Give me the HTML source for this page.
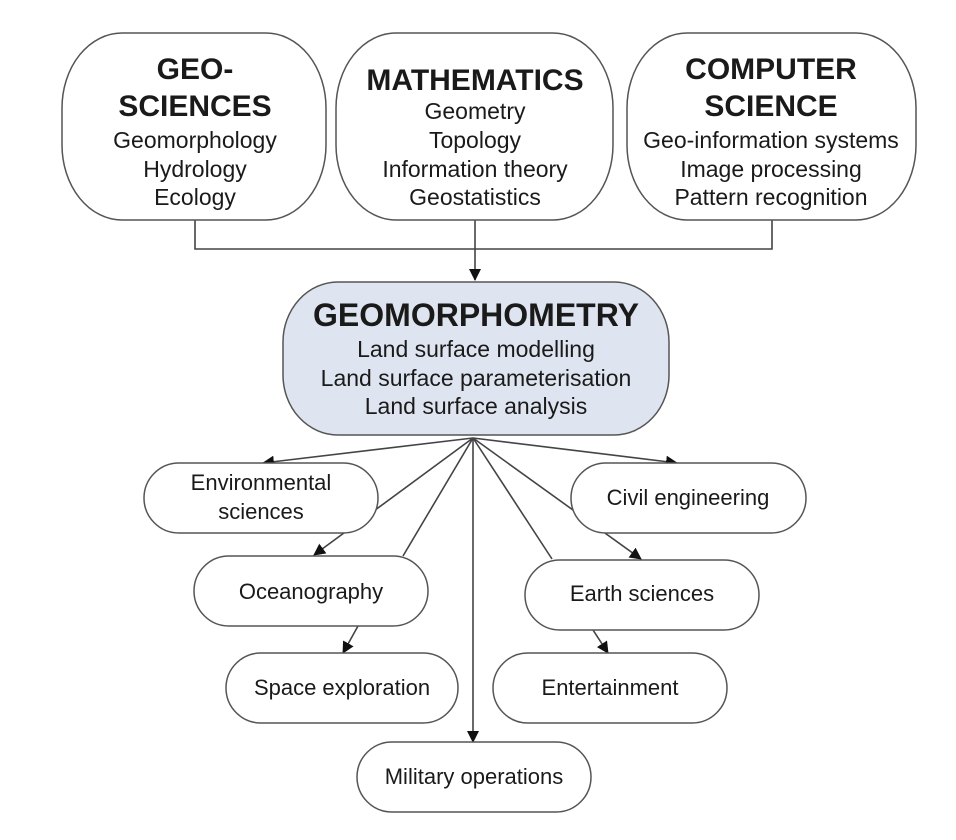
<!DOCTYPE html>
<html><head><meta charset="utf-8"><style>
html,body{margin:0;padding:0;background:#fff;}
svg{display:block;}
text{font-family:"Liberation Sans",Arial,sans-serif;fill:#1a1a1a;text-anchor:middle;}
.t{font-size:30px;font-weight:bold;}
.s{font-size:23px;}
.b{font-size:22px;}
</style></head><body>
<svg width="956" height="840" viewBox="0 0 956 840" xmlns="http://www.w3.org/2000/svg">
<defs>
<marker id="a" markerWidth="12" markerHeight="12" refX="11" refY="6" orient="auto" markerUnits="userSpaceOnUse">
<path d="M0,0 L12,6 L0,12 Z" fill="#111"/>
</marker>
</defs>
<g stroke="#444" stroke-width="1.6" fill="none">
<path d="M195,220 V249 H772 V220"/>
<path d="M475,220 V280" marker-end="url(#a)"/>
<line x1="473" y1="438" x2="263" y2="463" marker-end="url(#a)"/>
<line x1="473" y1="438" x2="677" y2="463" marker-end="url(#a)"/>
<line x1="473" y1="438" x2="314" y2="555" marker-end="url(#a)"/>
<line x1="473" y1="438" x2="403" y2="556"/>
<line x1="473" y1="438" x2="641" y2="559" marker-end="url(#a)"/>
<line x1="473" y1="438" x2="552" y2="559"/>
<line x1="473" y1="438" x2="473" y2="742" marker-end="url(#a)"/>
<line x1="358" y1="626" x2="343" y2="653" marker-end="url(#a)"/>
<line x1="593" y1="630" x2="608" y2="653" marker-end="url(#a)"/>
</g>
<g stroke="#555" stroke-width="1.5" fill="#fff">
<rect x="62" y="33" width="264" height="187" rx="60" ry="75"/>
<rect x="336" y="33" width="277" height="187" rx="60" ry="75"/>
<rect x="627" y="33" width="289" height="187" rx="60" ry="75"/>
<rect x="283" y="282" width="386" height="153" rx="55" ry="60" fill="#dfe5f0"/>
<rect x="144" y="463" width="234" height="70" rx="35" ry="35"/>
<rect x="571" y="463" width="235" height="70" rx="35" ry="35"/>
<rect x="194" y="556" width="234" height="70" rx="35" ry="35"/>
<rect x="525" y="560" width="234" height="70" rx="35" ry="35"/>
<rect x="226" y="653" width="232" height="70" rx="35" ry="35"/>
<rect x="493" y="653" width="234" height="70" rx="35" ry="35"/>
<rect x="357" y="742" width="234" height="70" rx="35" ry="35"/>
</g>
<text class="t" x="195" y="79">GEO-</text>
<text class="t" x="195" y="116">SCIENCES</text>
<text class="s" x="195" y="148">Geomorphology</text>
<text class="s" x="195" y="177">Hydrology</text>
<text class="s" x="195" y="205">Ecology</text>
<text class="t" x="475" y="90">MATHEMATICS</text>
<text class="s" x="475" y="119">Geometry</text>
<text class="s" x="475" y="148">Topology</text>
<text class="s" x="475" y="177">Information theory</text>
<text class="s" x="475" y="205">Geostatistics</text>
<text class="t" x="771" y="79">COMPUTER</text>
<text class="t" x="771" y="116">SCIENCE</text>
<text class="s" x="771" y="148">Geo-information systems</text>
<text class="s" x="771" y="177">Image processing</text>
<text class="s" x="771" y="205">Pattern recognition</text>
<text class="t" x="476" y="326" style="font-size:32px">GEOMORPHOMETRY</text>
<text class="s" x="476" y="357">Land surface modelling</text>
<text class="s" x="476" y="386">Land surface parameterisation</text>
<text class="s" x="476" y="414">Land surface analysis</text>
<text class="b" x="261" y="490">Environmental</text>
<text class="b" x="261" y="519">sciences</text>
<text class="b" x="688" y="505">Civil engineering</text>
<text class="b" x="311" y="599">Oceanography</text>
<text class="b" x="642" y="601">Earth sciences</text>
<text class="b" x="342" y="695">Space exploration</text>
<text class="b" x="610" y="695">Entertainment</text>
<text class="b" x="474" y="784">Military operations</text>
</svg>
</body></html>
